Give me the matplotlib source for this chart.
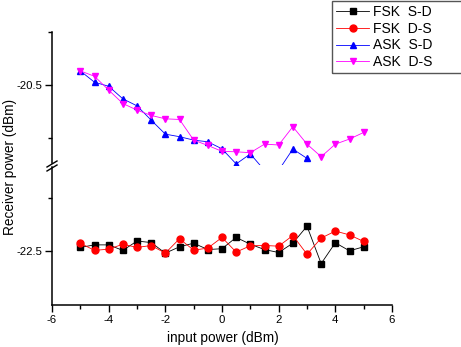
import numpy as np
import matplotlib
matplotlib.use("Agg")
from matplotlib import pyplot as plt
from matplotlib.lines import Line2D
from matplotlib.patches import Rectangle

plt.rcParams['font.family'] = ['Liberation Sans', 'DejaVu Sans']
plt.rcParams['axes.unicode_minus'] = False

x = np.arange(-5, 5.01, 0.5)

fsk_sd = [-22.484, -22.472, -22.472, -22.498, -22.454, -22.461, -22.511, -22.481, -22.464, -22.494, -22.490,
          -22.437, -22.469, -22.494, -22.508, -22.464, -22.384, -22.560, -22.462, -22.500, -22.481]
fsk_ds = [-22.464, -22.498, -22.492, -22.469, -22.484, -22.475, -22.511, -22.443, -22.497, -22.487, -22.437,
          -22.506, -22.476, -22.475, -22.478, -22.428, -22.516, -22.440, -22.407, -22.425, -22.456]
ask_sd = [-20.433, -20.486, -20.505, -20.564, -20.597, -20.664, -20.730, -20.742, -20.758, -20.766, -20.799,
          -20.870, -20.823, -20.900, -20.900, -20.800, -20.844]
ask_ds = [-20.433, -20.458, -20.523, -20.586, -20.617, -20.642, -20.658, -20.661, -20.758, -20.783, -20.811,
          -20.813, -20.817, -20.777, -20.781, -20.695, -20.777, -20.836, -20.777, -20.753, -20.722]

W, H = 461, 347
fig = plt.figure(figsize=(W / 100, H / 100), dpi=100)

def fx(px):
    return px / W

def fy(py):
    return 1 - py / H

left, right = 52, 392
ax_top = fig.add_axes([fx(left), fy(165), fx(right - left), fy(32) - fy(165)])
ax_bot = fig.add_axes([fx(left), fy(305), fx(right - left), fy(165) - fy(305)])

ms = 5
ax_bot.plot(x, fsk_sd, color='black', lw=0.6, marker='s', ms=ms, label='FSK  S-D')
ax_bot.plot(x, fsk_ds, color='red', lw=0.6, marker='o', ms=ms, label='FSK  D-S')
ax_top.plot(x[:len(ask_sd)], ask_sd, color='blue', lw=0.6, marker='^', ms=ms, label='ASK  S-D')
ax_top.plot(x, ask_ds, color='magenta', lw=0.6, marker='v', ms=ms, label='ASK  D-S')

ax_top.set_ylim(-20.875, -20.25)
ax_bot.set_ylim(-22.755, -22.096)
for ax in (ax_top, ax_bot):
    ax.set_xlim(-6, 6)
    ax.spines['top'].set_visible(False)
    ax.spines['right'].set_visible(False)
    ax.spines['left'].set_linewidth(1.1)
    ax.spines['bottom'].set_linewidth(1.1)
    ax.patch.set_alpha(0)
    ax.tick_params(direction='out', labelsize=8.2, width=1, length=5, pad=2)
    ax.tick_params(which='minor', direction='out', width=1, length=3)

ax_top.spines['bottom'].set_visible(False)
ax_top.set_xticks([])
ax_top.set_yticks([-20.5])
ax_top.set_yticks([-20.25, -20.75], minor=True)
ax_top.spines['left'].set_bounds(-20.866, -20.25)

ax_bot.set_xticks([-6, -4, -2, 0, 2, 4, 6])
ax_bot.set_xticks([-5, -3, -1, 1, 3, 5], minor=True)
ax_bot.set_yticks([-22.5])
ax_bot.set_yticks([-22.25], minor=True)
ax_bot.spines['left'].set_bounds(-22.755, -22.105)

# axis break marks
for off in (0, 4):
    fig.add_artist(Line2D([fx(47), fx(57)], [fy(167 + off), fy(161 + off)],
                          color='black', lw=1))

fig.text(fx(223), fy(338), 'input power (dBm)', ha='center', va='center', fontsize=9.8)
fig.text(fx(10), fy(167), 'Receiver power (dBm)', ha='center', va='center',
         rotation=90, fontsize=9.8)

handles = ax_bot.get_lines() + ax_top.get_lines()
leg = fig.legend(handles=handles, labels=[h.get_label() for h in handles],
                 loc='upper left', bbox_to_anchor=(fx(331), fy(0)),
                 frameon=False, fontsize=10, handlelength=2.4, handletextpad=0.3,
                 labelspacing=0.2, borderpad=0.35, borderaxespad=0)
fig.add_artist(Rectangle((fx(332), fy(73)), fx(140), fy(1) - fy(73),
                         transform=fig.transFigure, fill=False,
                         edgecolor='#555555', lw=1))

fig.savefig('out.png', dpi=100)
